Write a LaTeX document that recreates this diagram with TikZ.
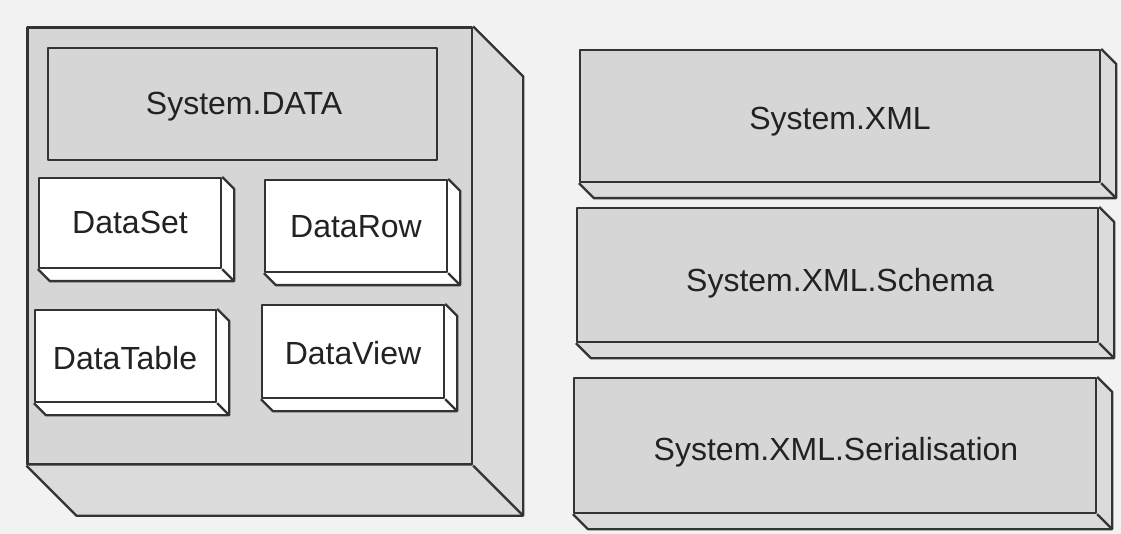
\documentclass[tikz,border=0pt]{standalone}
\usepackage{fontspec}
\setmainfont{Liberation Sans}
\usetikzlibrary{calc}
\definecolor{bgc}{HTML}{F2F2F2}
\definecolor{facec}{HTML}{D6D6D6}
\definecolor{sidec}{HTML}{DBDBDB}
\definecolor{linec}{HTML}{333333}
\definecolor{txtc}{HTML}{222222}
\tikzset{
  edge/.style={draw=linec, line width=2.3pt, line join=round},
  grayfront/.style={rectangle, edge, fill=facec, inner sep=0pt},
  whitefront/.style={rectangle, edge, fill=white, inner sep=0pt},
  lbl/.style={font=\fontsize{32}{38}\selectfont, text=txtc, inner sep=0pt},
}
% extrusion towards lower right: #1 node, #2 depth, #3 fill colour
\newcommand\extrude[3]{%
  \fill[#3] (#1.north east) -- ++(#2,#2) -- ($(#1.south east)+(#2,#2)$)
     -- ($(#1.south west)+(#2,#2)$) -- (#1.south west) -- (#1.south east) -- cycle;
  \draw[edge] (#1.north east) -- ++(#2,#2) -- ($(#1.south east)+(#2,#2)$)
     -- ($(#1.south west)+(#2,#2)$) -- (#1.south west);
  \draw[edge] (#1.south east) -- ++(#2,#2);
}
\begin{document}
\begin{tikzpicture}[x=1pt,y=-1pt]
\useasboundingbox (0,0) rectangle (1121,534);
\fill[bgc] (0,0) rectangle (1121,534);

% big container
\node[grayfront, minimum width=444.5pt, minimum height=437pt] (big) at (249.75,246) {};
\extrude{big}{50}{sidec}

\node[grayfront, minimum width=389pt, minimum height=112pt] (sysdata) at (242.5,104) {};
\node[lbl] (tsysdata) at (244,107) {System.DATA};

\node[whitefront, minimum width=182pt, minimum height=90pt] (dataset) at (130,223) {};
\extrude{dataset}{12}{white}
\node[lbl] (tdataset) at (130,222) {DataSet};

\node[whitefront, minimum width=182pt, minimum height=92pt] (datarow) at (356,226) {};
\extrude{datarow}{12}{white}
\node[lbl] (tdatarow) at (356,227) {DataRow};

\node[whitefront, minimum width=181pt, minimum height=92pt] (datatable) at (125.5,356) {};
\extrude{datatable}{12}{white}
\node[lbl] (tdatatable) at (125,358) {DataTable};

\node[whitefront, minimum width=182pt, minimum height=93pt] (dataview) at (353,351.5) {};
\extrude{dataview}{12}{white}
\node[lbl] (tdataview) at (353,353) {DataView};

% right column
\node[grayfront, minimum width=520pt, minimum height=132pt] (xml) at (840,116) {};
\extrude{xml}{15}{sidec}
\node[lbl] (txml) at (840,122) {System.XML};

\node[grayfront, minimum width=521pt, minimum height=134pt] (schema) at (837.5,275) {};
\extrude{schema}{15}{sidec}
\node[lbl] (tschema) at (840,283) {System.XML.Schema};

\node[grayfront, minimum width=522pt, minimum height=135pt] (serial) at (835,445.5) {};
\extrude{serial}{15}{sidec}
\node[lbl] (tserial) at (836,452) {System.XML.Serialisation};
\end{tikzpicture}
\end{document}
